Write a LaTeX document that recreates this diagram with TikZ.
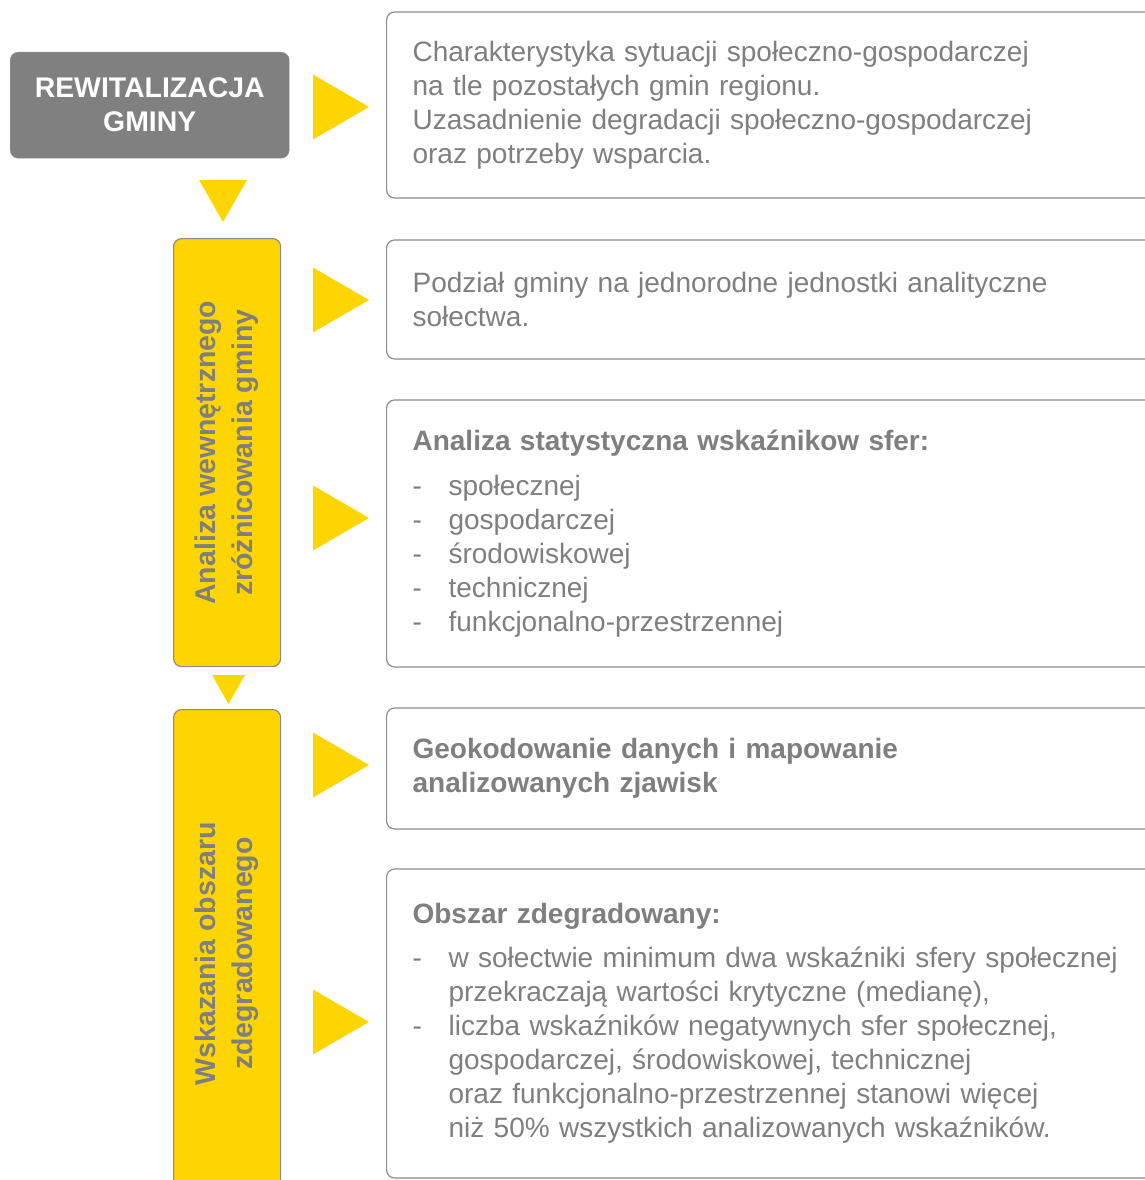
\documentclass[tikz,border=0pt]{standalone}
\usepackage{fontspec}
\setmainfont{Liberation Sans}
\usetikzlibrary{positioning, calc}
\definecolor{boxgray}{HTML}{808080}
\definecolor{txtgray}{HTML}{7F7F7F}
\definecolor{linegray}{HTML}{8C8C8C}
\definecolor{sunyellow}{HTML}{FFD500}
\newcommand{\listdash}{\makebox[36pt][l]{-}}
\newcommand{\listgap}{\makebox[36pt][l]{}}

\begin{document}
\begin{tikzpicture}[x=1pt, y=-1pt,
    headbox/.style={rectangle, rounded corners=8pt, draw=boxgray!85, fill=boxgray,
      text=white, font=\fontsize{28.4}{34}\selectfont\bfseries, align=center,
      minimum width=279pt, minimum height=106pt, inner sep=0pt, anchor=north west},
    phasebox/.style={rectangle, rounded corners=8pt, draw=linegray, line width=1.2pt,
      fill=sunyellow, minimum width=107pt, inner sep=0pt, anchor=north west},
    phaselabel/.style={rotate=90, text=txtgray, align=center,
      font=\fontsize{28.5}{37}\selectfont\bfseries},
    infobox/.style={rectangle, rounded corners=8pt, draw=linegray, line width=1.2pt,
      fill=white, text=txtgray, align=left, text width=740pt, inner xsep=26pt,
      inner ysep=0pt, anchor=west, font=\fontsize{28}{34}\selectfont},
    marker/.style={fill=sunyellow}
  ]
  \useasboundingbox (0,0) rectangle (1144,1180);

  % ---- left column ----
  \node[headbox] (head) at (10,52) {REWITALIZACJA\\GMINY};
  \node[phasebox, minimum height=428pt] (ph1) at (173,238) {};
  \node[phasebox, minimum height=488pt] (ph2) at (173,709) {};
  \node[phaselabel] (ph1txt) at (ph1.center) {Analiza wewnętrznego\\zróżnicowania gminy};
  \node[phaselabel] (ph2txt) at (ph2.center) {Wskazania obszaru\\zdegradowanego};

  % ---- right column ----
  \node[infobox, minimum height=186pt] (infoA) at (386,105)
    {Charakterystyka sytuacji społeczno-gospodarczej\\
     na tle pozostałych gmin regionu.\\
     Uzasadnienie degradacji społeczno-gospodarczej\\
     oraz potrzeby wsparcia.};
  \node[infobox, minimum height=119pt] (infoB) at (386,299.5)
    {Podział gminy na jednorodne jednostki analityczne\\
     sołectwa.};
  \node[infobox, minimum height=267pt] (infoC) at (386,533.5)
    {\textbf{Analiza statystyczna wskaźnikow sfer:}\\[11pt]
     \listdash społecznej\\
     \listdash gospodarczej\\
     \listdash środowiskowej\\
     \listdash technicznej\\
     \listdash funkcjonalno-przestrzennej};
  \node[infobox, minimum height=121pt] (infoD) at (386,768.5)
    {\textbf{Geokodowanie danych i mapowanie}\\
     \textbf{analizowanych zjawisk}};
  \node[infobox, minimum height=309pt] (infoE) at (386,1023.5)
    {\textbf{Obszar zdegradowany:}\\[10pt]
     \listdash w sołectwie minimum dwa wskaźniki sfery społecznej\\
     \listgap przekraczają wartości krytyczne (medianę),\\
     \listdash liczba wskaźników negatywnych sfer społecznej,\\
     \listgap gospodarczej, środowiskowej, technicznej\\
     \listgap oraz funkcjonalno-przestrzennej stanowi więcej\\
     \listgap niż 50\% wszystkich analizowanych wskaźników.};

  % ---- yellow pointers ----
  \foreach \ty in {107,300,518,765,1022}
    \fill[marker] (313,\ty-32.5) -- (369,\ty) -- (313,\ty+32.5) -- cycle;
  \fill[marker] (199,180) -- (247,180) -- (223,222) -- cycle;
  \fill[marker] (212,675) -- (245,675) -- (228.5,704) -- cycle;
\end{tikzpicture}
\end{document}
